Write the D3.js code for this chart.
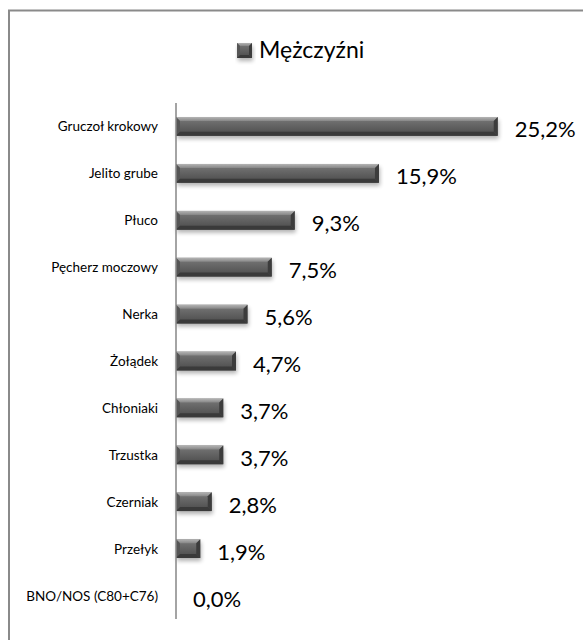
<!DOCTYPE html>
<html>
<head>
<meta charset="utf-8">
<script src="https://cdn.jsdelivr.net/npm/d3@7"></script>
<style>
body { margin: 0; background: #fff; }
svg { display: block; }
text { font-family: Lato, "Open Sans", sans-serif; fill: #000; }
</style>
</head>
<body>
<svg id="chart" width="583" height="640"></svg>
<script>
// data
var categories = ["Gruczoł krokowy", "Jelito grube", "Płuco", "Pęcherz moczowy", "Nerka",
    "Żołądek", "Chłoniaki", "Trzustka", "Czerniak", "Przełyk", "BNO/NOS (C80+C76)"];
var values = [25.2, 15.9, 9.3, 7.5, 5.6, 4.7, 3.7, 3.7, 2.8, 1.9, 0.0];
var seriesName = "Mężczyźni";

function fmt(v) {
    return v.toFixed(1).replace(".", ",") + "%";
}

var svg = d3.select("#chart");

var defs = svg.append("defs");
var g1 = defs.append("linearGradient").attr("id", "body").attr("x1", 0).attr("x2", 0).attr("y1", 0).attr("y2", 1);
g1.append("stop").attr("offset", "0%").attr("stop-color", "#7a7a7a");
g1.append("stop").attr("offset", "45%").attr("stop-color", "#646464");
g1.append("stop").attr("offset", "100%").attr("stop-color", "#4a4a4a");
var g2 = defs.append("linearGradient").attr("id", "topf").attr("x1", 0).attr("x2", 0).attr("y1", 0).attr("y2", 1);
g2.append("stop").attr("offset", "0%").attr("stop-color", "#b4b4b4");
g2.append("stop").attr("offset", "100%").attr("stop-color", "#868686");
defs.append("filter").attr("id", "blur").attr("x", "-20%").attr("y", "-50%").attr("width", "140%").attr("height", "200%")
    .append("feGaussianBlur").attr("stdDeviation", 2);

// outer frame (runs off the right and bottom edge)
svg.append("path")
    .attr("d", "M9,700 V10.5 H600")
    .attr("fill", "none")
    .attr("stroke", "#8a8a8a")
    .attr("stroke-width", 2);

var x = d3.scaleLinear().domain([0, 30]).range([176, 559]);
var y = d3.scaleBand().domain(categories).range([103, 619]).paddingInner(0.6).paddingOuter(0.3);

function bevelBar(sel, x0, y0, w, h, b) {
    var x1 = x0 + w, y1 = y0 + h;
    sel.append("rect").attr("x", x0 + 1).attr("y", y0 + 3).attr("width", w).attr("height", h)
        .attr("fill", "#000").attr("opacity", 0.3).attr("filter", "url(#blur)");
    sel.append("rect").attr("x", x0).attr("y", y0).attr("width", w).attr("height", h).attr("fill", "url(#body)");
    var pts = function (a) { return a.map(function (p) { return p.join(","); }).join(" "); };
    sel.append("polygon").attr("points", pts([[x0, y0], [x1, y0], [x1 - b, y0 + b], [x0 + b, y0 + b]])).attr("fill", "url(#topf)");
    sel.append("polygon").attr("points", pts([[x0, y0], [x0 + b, y0 + b], [x0 + b, y1 - b], [x0, y1]])).attr("fill", "#555");
    sel.append("polygon").attr("points", pts([[x1, y0], [x1, y1], [x1 - b, y1 - b], [x1 - b, y0 + b]])).attr("fill", "#3c3c3c");
    sel.append("polygon").attr("points", pts([[x0, y1], [x0 + b, y1 - b], [x1 - b, y1 - b], [x1, y1]])).attr("fill", "#3a3a3a");
}

var rows = svg.selectAll("g.row").data(categories).enter().append("g").attr("class", "row");

rows.each(function (d, i) {
    var v = values[i];
    var w = x(v) - x(0);
    if (w > 0) bevelBar(d3.select(this), x(0), y(d), w, y.bandwidth(), Math.min(4, w / 3));
});

rows.append("text")
    .attr("x", 158)
    .attr("y", function (d) { return y(d) + y.bandwidth() / 2 + 5; })
    .attr("text-anchor", "end")
    .attr("font-size", 13.5)
    .text(function (d) { return d; });

rows.append("text")
    .attr("x", function (d, i) { return x(values[i]) + 17; })
    .attr("y", function (d) { return y(d) + y.bandwidth() / 2 + 11; })
    .attr("font-size", 22)
    .text(function (d, i) { return fmt(values[i]); });

// value axis line
svg.append("line")
    .attr("x1", x(0)).attr("x2", x(0))
    .attr("y1", y.range()[0]).attr("y2", y.range()[1])
    .attr("stroke", "#868686").attr("stroke-width", 1.5);

// legend
var leg = svg.append("g");
bevelBar(leg, 237, 43, 15, 15, 3);
leg.append("text").attr("x", 259).attr("y", 58).attr("font-size", 23).text(seriesName);
</script>
</body>
</html>
